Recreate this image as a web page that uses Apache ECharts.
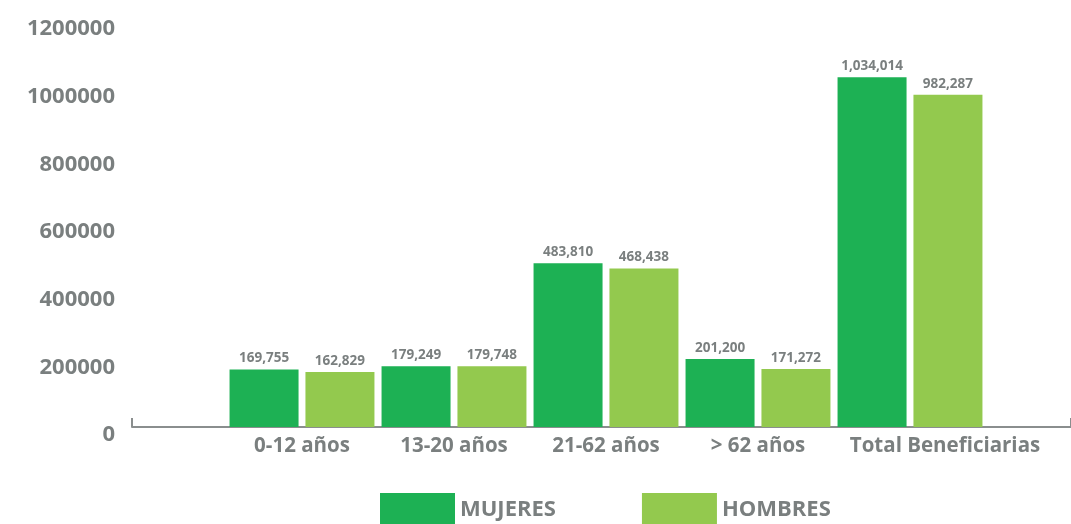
<!DOCTYPE html>
<html>
<head>
<meta charset="utf-8">
<title>Beneficiarias</title>
<script src="https://cdn.jsdelivr.net/npm/echarts@6/dist/echarts.min.js"></script>
<style>
    html, body { margin: 0; padding: 0; background: #fff; }
    #main { width: 1071px; height: 524px; }
</style>
</head>
<body>
<div id="main"></div>
<script>
    var categories = ['0-12 años', '13-20 años', '21-62 años', '> 62 años', 'Total Beneficiarias'];
    var mujeres = [169755, 179249, 483810, 201200, 1034014];
    var hombres = [162829, 179748, 468438, 171272, 982287];
    var yTicks = [0, 1200000, 200000]; // min, max, interval

    var gris = '#7a7f7f';
    var colorList = ['#1db154', '#93c94e'];

    var chart = echarts.init(document.getElementById('main'));

    function etiqueta(p) {
        return Number(p.value).toLocaleString('en-US');
    }

    // la última etiqueta va corrida a la derecha, como en el original
    var catData = categories.map(function (c, i) {
        if (i === categories.length - 1) {
            return { value: c, textStyle: { padding: [0, 0, 0, 70] } };
        }
        return c;
    });

    var option = {
        backgroundColor: '#fff',
        textStyle: { fontFamily: 'Open Sans', fontWeight: 'bold', color: gris },
        legend: {
            top: 493,
            left: 380,
            padding: 0,
            icon: 'rect',
            itemWidth: 75,
            itemHeight: 34,
            itemGap: 86,
            textStyle: { color: gris, fontSize: 22, fontWeight: 'bold', fontFamily: 'Open Sans', padding: [4, 0, 0, 0] },
            data: ['MUJERES', 'HOMBRES']
        },
        grid: [
            { left: 226, right: 85, top: 21, bottom: 97 },
            { left: 132, right: -6, top: 21, bottom: 97 }, // línea del eje
            { left: 226, right: 85, top: 29, bottom: 89 }  // etiquetas del eje y
        ],
        xAxis: [{
            type: 'category',
            gridIndex: 0,
            data: catData,
            axisLine: { show: false },
            axisTick: { show: false },
            axisLabel: {
                interval: 0,
                margin: 9,
                color: gris,
                fontSize: 20.5,
                fontWeight: 'bold',
                fontFamily: 'Open Sans'
            }
        }, {
            type: 'value',
            gridIndex: 1,
            min: 0,
            max: 1,
            interval: 1,
            axisLine: { show: true, lineStyle: { color: '#8a8e8e', width: 2 } },
            axisTick: { show: true, inside: true, length: 9, lineStyle: { color: '#8a8e8e', width: 2 } },
            axisLabel: { show: false },
            splitLine: { show: false }
        }, {
            type: 'value',
            gridIndex: 2,
            show: false
        }],
        yAxis: [{
            type: 'value',
            gridIndex: 0,
            min: yTicks[0],
            max: yTicks[1],
            interval: yTicks[2],
            show: false
        }, {
            type: 'value',
            gridIndex: 1,
            show: false
        }, {
            type: 'value',
            gridIndex: 2,
            min: yTicks[0],
            max: yTicks[1],
            interval: yTicks[2],
            axisLine: { show: false },
            axisTick: { show: false },
            splitLine: { show: false },
            axisLabel: {
                margin: 111,
                formatter: function (v) { return String(v); },
                color: gris,
                fontSize: 22,
                fontWeight: 'bold',
                fontFamily: 'Open Sans'
            }
        }],
        series: [{
            name: 'MUJERES',
            type: 'bar',
            xAxisIndex: 0,
            yAxisIndex: 0,
            data: mujeres,
            barWidth: 69,
            barGap: '10%',
            itemStyle: { color: colorList[0] },
            label: {
                show: true,
                position: 'top',
                distance: 4,
                formatter: etiqueta,
                color: gris,
                fontSize: 13.5,
                fontWeight: 'bold',
                fontFamily: 'Open Sans'
            }
        }, {
            name: 'HOMBRES',
            type: 'bar',
            xAxisIndex: 0,
            yAxisIndex: 0,
            data: hombres,
            barWidth: 69,
            barGap: '10%',
            itemStyle: { color: colorList[1] },
            label: {
                show: true,
                position: 'top',
                distance: 4,
                formatter: etiqueta,
                color: gris,
                fontSize: 13.5,
                fontWeight: 'bold',
                fontFamily: 'Open Sans'
            }
        }]
    };

    chart.setOption(option);
</script>
</body>
</html>
